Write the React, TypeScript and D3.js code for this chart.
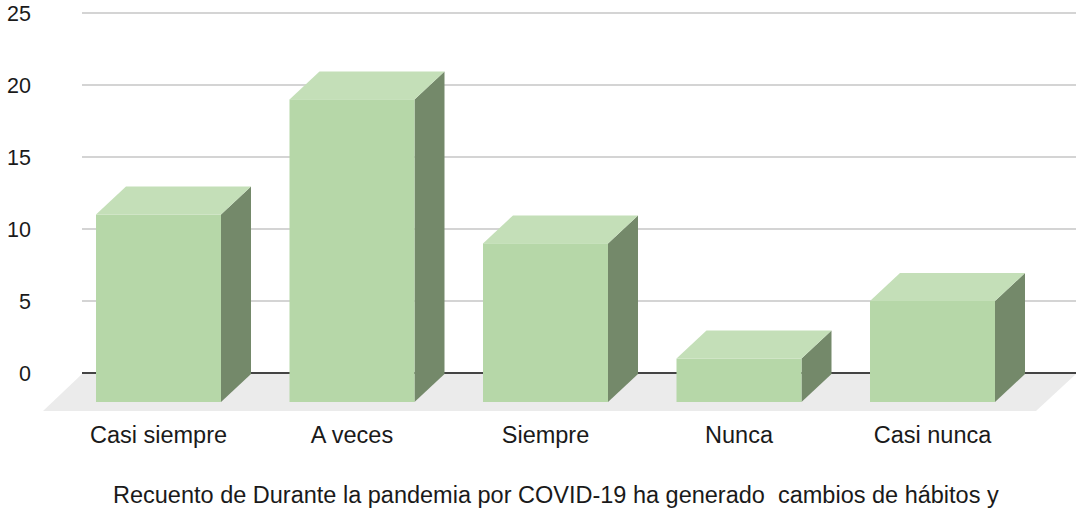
import React from 'react';
import * as d3 from 'd3';

const categories = ['Casi siempre', 'A veces', 'Siempre', 'Nunca', 'Casi nunca'];
const counts = [11, 19, 9, 1, 5];
const yTicks = [0, 5, 10, 15, 20, 25];
const title = 'Recuento de Durante la pandemia por COVID-19 ha generado  cambios de hábitos y';

const width = 1076;
const height = 508;
const depthX = 30; // 3d offset of bar back face
const depthY = -28;
const floorDrop = 29; // bars sit on the front edge of the floor

const App: React.FC = () => {
  const x = d3
    .scaleBand<string>()
    .domain(categories)
    .range([96, 995])
    .paddingInner(0.354)
    .paddingOuter(0);

  const y = d3.scaleLinear().domain([0, 25]).range([373, 13]);

  const base = y(0) + floorDrop;
  const bw = x.bandwidth();

  const floor = [
    [82, y(0) + 1],
    [width, y(0) + 1],
    [1036, y(0) + 38],
    [43, y(0) + 38],
  ]
    .map((p) => p.join(','))
    .join(' ');

  return (
    <svg
      width={width}
      height={height}
      style={{ position: 'absolute', left: 0, top: 0, background: '#fff' }}
      fontFamily="'Liberation Sans', Arial, sans-serif"
    >
      <polygon points={floor} fill="#ebebeb" />
      {yTicks.map((t) => (
        <g key={t}>
          <line
            x1={82}
            x2={width}
            y1={y(t)}
            y2={y(t)}
            stroke={t === 0 ? '#444' : '#d4d4d4'}
            strokeWidth={2}
          />
          <text x={31} y={y(t)} dy="0.36em" textAnchor="end" fontSize={21.5} fill="#1a1a1a">
            {t}
          </text>
        </g>
      ))}
      {categories.map((c, i) => {
        const x0 = x(c)!;
        const x1 = x0 + bw;
        const top = y(counts[i]);
        const side = `${x1},${top} ${x1 + depthX},${top + depthY} ${x1 + depthX},${base + depthY} ${x1},${base}`;
        const lid = `${x0},${top} ${x0 + depthX},${top + depthY} ${x1 + depthX},${top + depthY} ${x1},${top}`;
        return (
          <g key={c}>
            <polygon points={side} fill="#74896a" />
            <polygon points={lid} fill="#c4dfb8" />
            <rect x={x0} y={top} width={bw} height={base - top} fill="#b6d7a8" />
            <text x={x0 + bw / 2} y={443} textAnchor="middle" fontSize={23.5} fill="#1a1a1a">
              {c}
            </text>
          </g>
        );
      })}
      <text x={113} y={503} fontSize={23.5} fill="#1a1a1a" style={{ whiteSpace: 'pre' }}>
        {title}
      </text>
    </svg>
  );
};

export default App;
